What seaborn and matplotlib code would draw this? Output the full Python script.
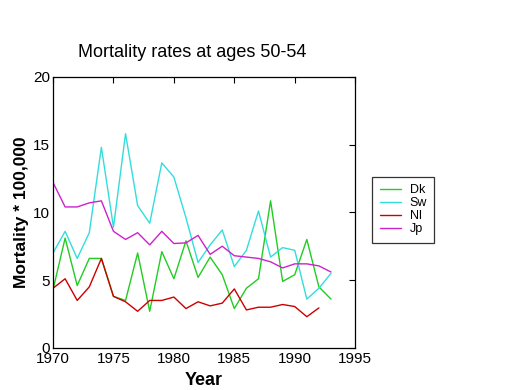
import matplotlib
matplotlib.use("Agg")
import matplotlib.pyplot as plt
import numpy as np
import pandas as pd
import seaborn as sns

years = list(range(1970, 1994))
dk = [4.3, 8.1, 4.6, 6.6, 6.6, 3.8, 3.5, 7.0, 2.7, 7.1, 5.1, 7.9, 5.2, 6.7, 5.4,
      2.9, 4.4, 5.1, 10.85, 4.9, 5.4, 8.0, 4.5, 3.6]
sw = [7.0, 8.6, 6.6, 8.5, 14.8, 8.9, 15.8, 10.5, 9.2, 13.65, 12.6, 9.6, 6.3, 7.6,
      8.7, 6.0, 7.2, 10.1, 6.7, 7.4, 7.2, 3.6, 4.4, 5.5]
nl = [4.4, 5.1, 3.5, 4.5, 6.6, 3.8, 3.4, 2.7, 3.5, 3.5, 3.75, 2.9, 3.4, 3.1, 3.3,
      4.35, 2.8, 3.0, 3.0, 3.2, 3.05, 2.3, 2.95, np.nan]
jp = [12.2, 10.4, 10.4, 10.7, 10.85, 8.6, 8.0, 8.5, 7.6, 8.6, 7.7, 7.75, 8.3, 6.9,
      7.5, 6.8, 6.7, 6.6, 6.35, 5.9, 6.2, 6.2, 6.05, 5.6]
countries = ["Dk", "Sw", "Nl", "Jp"]
colors = ["#22cc22", "#33dddd", "#cc0000", "#cc22cc"]

df = pd.DataFrame({"Year": years, "Dk": dk, "Sw": sw, "Nl": nl, "Jp": jp})
df_long = df.melt(id_vars="Year", value_vars=countries, var_name="Country", value_name="Rate")

sns.set_style("white")
plt.rcParams["font.family"] = ["Liberation Sans", "DejaVu Sans"]
plt.rcParams["text.color"] = "black"
plt.rcParams["axes.labelcolor"] = "black"

fig = plt.figure(figsize=(5.2, 3.9), dpi=100)
ax = fig.add_axes([0.102, 0.108, 0.581, 0.695])
sns.lineplot(data=df_long, x="Year", y="Rate", hue="Country", hue_order=countries,
             palette=colors, linewidth=1.0, ax=ax, legend=True)

ax.set_xlim(1970, 1995)
ax.set_ylim(0, 20)
ax.set_xticks(range(1970, 1996, 5))
ax.set_yticks(range(0, 21, 5))
ax.tick_params(direction="in", top=True, right=True, length=4, width=0.8,
               labelsize=11, colors="black")
ax.tick_params(axis="x", pad=3)
ax.tick_params(axis="y", pad=2)
for s in ax.spines.values():
    s.set_color("black")
    s.set_linewidth(0.9)

ax.set_title("Mortality rates at ages 50-54", fontsize=13, x=0.46, pad=14, color="black")
ax.set_xlabel("Year", fontsize=13, fontweight="bold", labelpad=4)
ax.set_ylabel("Mortality * 100,000", fontsize=12.5, fontweight="bold", labelpad=3)

leg = ax.legend(loc="upper left", bbox_to_anchor=(1.056, 0.631), frameon=True,
                fancybox=False, edgecolor="black", fontsize=9, handlelength=1.7,
                labelspacing=0.08, borderpad=0.6, handletextpad=0.7, borderaxespad=0)
leg.get_frame().set_linewidth(0.9)
for t in leg.get_texts():
    t.set_color("black")

fig.savefig("out.png", dpi=100)
